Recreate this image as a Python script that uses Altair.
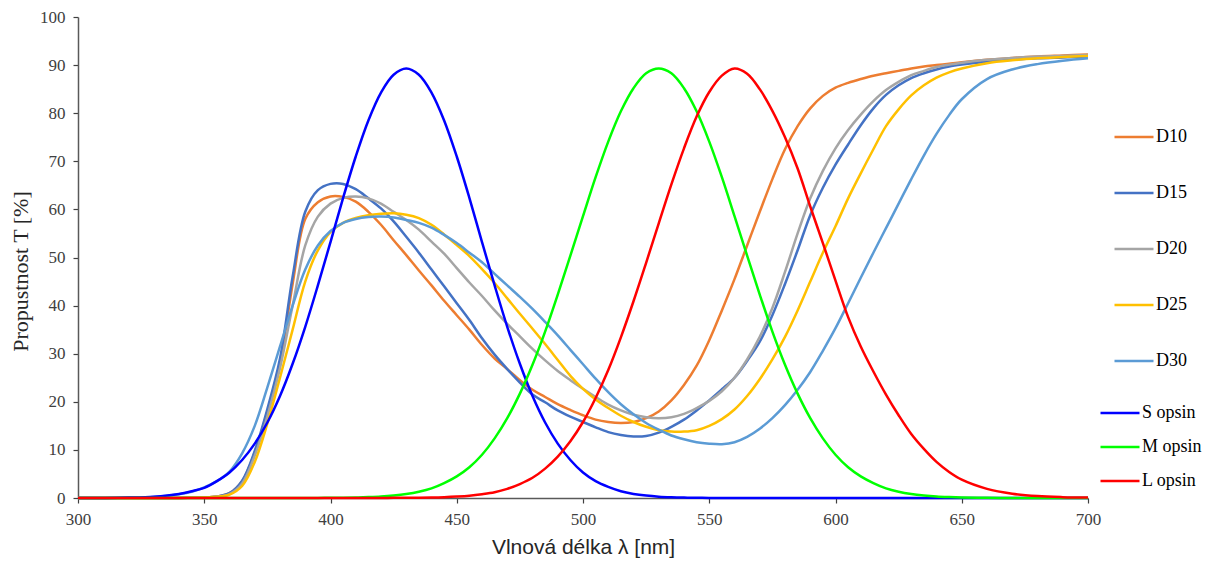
import altair as alt
import pandas as pd

wavelength = [300, 310, 320, 330, 340] + list(range(345, 651, 5)) + [660, 670, 680, 690, 700]

d10 = [0, 0, 0, 0, 0.02,
       0.05, 0.1, 0.3, 1.0, 3.5, 9.5, 18, 28, 44.5, 58, 61.5,
       62.7, 62.6, 61.6, 59.5, 56.8, 53.6, 50.5, 47.3, 44.2, 41,
       38, 35, 31.8, 29, 26.8, 24.5, 22.5, 21, 19.5, 18.3,
       17.2, 16.3, 15.8, 15.6, 15.8, 16.6, 18, 20.3, 23.5, 27.5,
       32.8, 39, 45.5, 52.5, 59.5, 66.3, 72.5, 77.3, 81.0, 83.6,
       85.3, 86.3, 87.1, 87.8, 88.3, 88.8, 89.3, 89.7, 90, 90.3, 90.6,
       91.1, 91.5, 91.8, 92.0, 92.2]
d15 = [0, 0, 0, 0, 0.02,
       0.05, 0.1, 0.3, 1.0, 3.6, 9.8, 18.5, 29, 46, 59.5, 64,
       65.3, 65.3, 64.2, 62.3, 60.2, 57.5, 54.3, 51, 47.5, 44,
       40.5, 37, 33.2, 29.8, 26.8, 24, 21.5, 19.9, 18.2, 16.9,
       15.8, 14.7, 13.7, 13.1, 12.8, 12.9, 13.6, 14.8, 16.3, 18.2,
       20.3, 22.6, 25, 28.5, 32.5, 38, 44.5, 51.5, 58.8, 64.5,
       69.3, 73.5, 77.5, 81, 83.8, 85.8, 87.3, 88.3, 89.1, 89.7, 90.1,
       90.7, 91.1, 91.4, 91.6, 91.8]
d20 = [0, 0, 0, 0, 0.02,
       0.05, 0.1, 0.25, 0.8, 3.0, 8.8, 17, 27, 40, 52.5, 58.5,
       61.2, 62.4, 62.7, 62.3, 61.2, 59.5, 57.8, 55.8, 53.3, 50.8,
       47.8, 44.8, 42, 39, 36.2, 33.6, 31, 28.6, 26.4, 24.5,
       22.7, 21, 19.4, 18.2, 17.3, 16.8, 16.6, 16.8, 17.5, 18.7,
       20.2, 22.2, 25, 28.8, 33.5, 39.5, 47, 55, 62.3, 68,
       72.7, 76.5, 79.7, 82.5, 84.8, 86.5, 87.9, 88.8, 89.6, 90.1, 90.5,
       91.1, 91.5, 91.8, 91.9, 92.1]
d25 = [0, 0, 0, 0, 0.02,
       0.05, 0.1, 0.25, 0.7, 2.5, 7.5, 15.5, 25, 35, 45, 51.5,
       55.3, 57.2, 58.2, 58.8, 59.1, 59.2, 58.9, 58.2, 56.8, 54.8,
       52.6, 50.3, 47.6, 44.7, 41.5, 38.3, 35.2, 32, 28.7, 25.4,
       22.7, 20.5, 18.7, 17.1, 15.8, 14.8, 14.1, 13.8, 13.8, 14.1,
       15, 16.4, 18.4, 21.2, 24.7, 28.8, 33.5, 39, 45, 51,
       56.5, 62.3, 67.5, 72.5, 77.3, 80.8, 83.7, 85.8, 87.4, 88.5, 89.3,
       90.4, 91, 91.4, 91.7, 91.9]
d30 = [0, 0, 0.05, 0.2, 0.8,
       1.3, 2.2, 3.5, 5.5, 9.3, 15, 23, 31.5, 40, 47.5, 52.5,
       55.5, 57.2, 58, 58.4, 58.5, 58.3, 57.8, 57.2, 56.2, 54.7,
       53, 51, 49, 46.6, 44.2, 41.8, 39.3, 36.6, 33.8, 30.8,
       27.8, 24.8, 22, 19.5, 17.4, 15.6, 14.2, 13, 12.2, 11.6,
       11.3, 11.2, 11.6, 12.7, 14.4, 16.6, 19.3, 22.5, 26.2, 30.6,
       35.3, 40.5, 45.8, 51, 56.1, 61.2, 66.3, 71.2, 75.7, 79.6, 82.9,
       87.1, 89.1, 90.2, 90.9, 91.4]
s_opsin = [0, 0.02, 0.09, 0.28, 0.85,
           1.4, 2.1, 3.5, 5.3, 7.9, 11.3, 15.7, 21.2, 27.9, 35.6, 44.2,
           53.2, 62.4, 71.0, 78.5, 84.3, 88.0, 89.3, 88.0, 84.3, 78.5,
           71.0, 62.4, 53.2, 44.2, 35.6, 27.9, 21.2, 15.7, 11.3, 7.9,
           5.3, 3.5, 2.3, 1.4, 0.85, 0.5, 0.28, 0.16, 0.09, 0.05,
           0.02, 0.01, 0, 0, 0, 0, 0, 0, 0, 0,
           0, 0, 0, 0, 0, 0, 0, 0, 0, 0, 0,
           0, 0, 0, 0, 0]
m_opsin = [0, 0, 0, 0, 0,
           0, 0, 0, 0, 0, 0, 0, 0, 0, 0.01, 0.02,
           0.04, 0.07, 0.11, 0.19, 0.31, 0.52, 0.83, 1.3, 2.0, 3.1,
           4.5, 6.4, 9.0, 12.4, 16.6, 21.7, 27.7, 34.6, 42.3, 50.4,
           58.6, 66.7, 74.1, 80.4, 85.2, 88.3, 89.3, 88.3, 85.2, 80.4,
           74.1, 66.7, 58.6, 50.4, 42.3, 34.6, 27.7, 21.7, 16.6, 12.4,
           9.0, 6.4, 4.5, 3.1, 2.0, 1.3, 0.83, 0.52, 0.31, 0.19, 0.11,
           0.04, 0.01, 0, 0, 0]
l_opsin = [0, 0, 0, 0, 0,
           0, 0, 0, 0, 0, 0, 0, 0, 0, 0, 0,
           0, 0, 0, 0.01, 0.02, 0.03, 0.05, 0.07, 0.1, 0.17,
           0.29, 0.47, 0.78, 1.2, 1.9, 2.9, 4.2, 6.1, 8.6, 11.8,
           15.8, 20.8, 26.6, 33.4, 40.9, 48.9, 57.1, 65.2, 72.7, 79.3,
           84.4, 87.8, 89.3, 88.2, 85.0, 80.5, 75.0, 68.5, 60.6, 53.0,
           45.2, 37.6, 31.5, 26.3, 21.5, 17.2, 13.3, 10.2, 7.5, 5.4, 3.8,
           1.9, 0.9, 0.4, 0.18, 0.08]

filter_names = ["D10", "D15", "D20", "D25", "D30"]
filter_colors = ["#ED7D31", "#4472C4", "#A5A5A5", "#FFC000", "#5B9BD5"]
opsin_names = ["S opsin", "M opsin", "L opsin"]
opsin_colors = ["#0000FF", "#00FF00", "#FF0000"]

series = {"D10": d10, "D15": d15, "D20": d20, "D25": d25, "D30": d30,
          "S opsin": s_opsin, "M opsin": m_opsin, "L opsin": l_opsin}
rows = []
for name, vals in series.items():
    assert len(vals) == len(wavelength), (name, len(vals))
    for w, v in zip(wavelength, vals):
        rows.append({"wl": w, "T": v, "series": name})
df = pd.DataFrame(rows)

x_enc = alt.X("wl:Q", scale=alt.Scale(domain=[300, 700], nice=False),
              axis=alt.Axis(values=list(range(300, 701, 50)), title="Vlnová délka λ [nm]",
                            titleFont="Liberation Sans", titleFontSize=21, titleFontWeight="normal",
                            titleColor="#262626", titlePadding=9, labelFlush=False))
y_enc = alt.Y("T:Q", scale=alt.Scale(domain=[0, 100], nice=False),
              axis=alt.Axis(values=list(range(0, 101, 10)), title="Propustnost T [%]",
                            titleFont="Liberation Serif", titleFontSize=22, titleFontWeight="normal",
                            titleColor="#262626", titlePadding=7, titleY=254, labelFlush=False))


def line_layer(name, names, colors, legend):
    return alt.Chart(df).transform_filter(alt.datum.series == name).mark_line(
        strokeWidth=2.5, interpolate="catmull-rom"
    ).encode(
        x=x_enc, y=y_enc,
        color=alt.Color("series:N", scale=alt.Scale(domain=names, range=colors), legend=legend),
    )


leg_common = dict(orient="none", title=None, symbolType="stroke", symbolSize=1521,
                  symbolStrokeWidth=2.5, labelFont="Liberation Serif", labelFontSize=18,
                  labelColor="#000000", padding=0, labelOffset=1)
leg_d = alt.Legend(legendX=1035, legendY=99, rowPadding=26, **leg_common)
leg_o = alt.Legend(legendX=1021, legendY=375, rowPadding=4, **leg_common)

d_layer = alt.layer(*[line_layer(n, filter_names, filter_colors, leg_d) for n in filter_names])
o_layer = alt.layer(*[line_layer(n, opsin_names, opsin_colors, leg_o) for n in opsin_names])

chart = alt.layer(d_layer, o_layer).resolve_scale(color="independent").properties(
    width=1010, height=481,
    autosize=alt.AutoSizeParams(type="none"),
    padding={"left": 78, "top": 17, "right": 128, "bottom": 71},
    background="white",
).configure_view(stroke=None).configure_axis(
    grid=False, domainColor="#595959", domainWidth=1.5, tickColor="#404040", tickWidth=1.2,
    tickSize=5, labelFont="Liberation Serif", labelFontSize=17, labelColor="#404040",
).configure_axisX(labelPadding=8).configure_axisY(labelPadding=8)

chart.save("out.html", embed_options={"renderer": "svg", "actions": False})
